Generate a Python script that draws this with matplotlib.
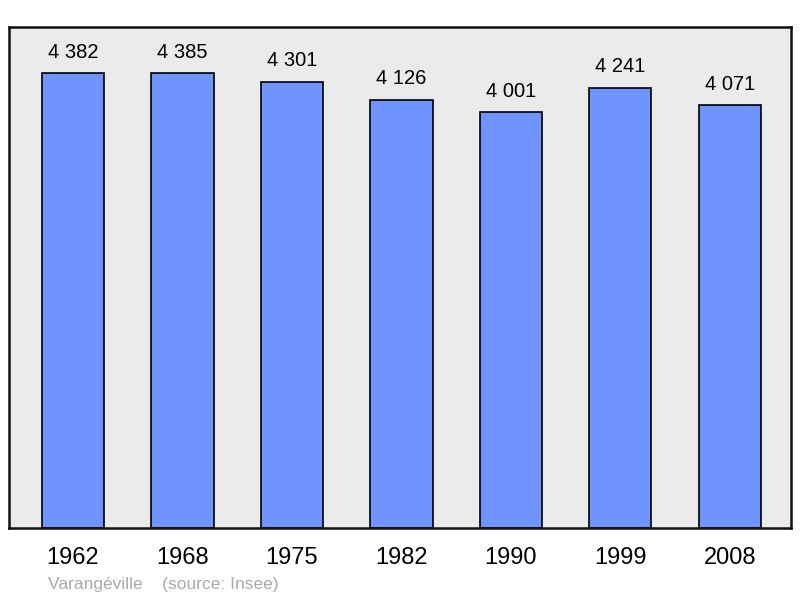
import matplotlib
matplotlib.use("Agg")
import matplotlib.pyplot as plt

# data
years = ["1962", "1968", "1975", "1982", "1990", "1999", "2008"]
population = [4382, 4385, 4301, 4126, 4001, 4241, 4071]
value_labels = ["4 382", "4 385", "4 301", "4 126", "4 001", "4 241", "4 071"]

plt.rcParams["font.family"] = ["Liberation Sans", "DejaVu Sans"]

fig = plt.figure(figsize=(8, 5.98), dpi=100)
ax = fig.add_axes([9 / 800, (598 - 528) / 598, 782 / 800, (528 - 27) / 598])
ax.set_facecolor("#ebebeb")

y_bottom = -58
ax.set_ylim(y_bottom, 4836)
ax.set_xlim(-0.585, 6.56)

x = list(range(len(years)))
ax.bar(x, [p - y_bottom for p in population], bottom=y_bottom, width=0.57,
       color="#7094ff", edgecolor="black", linewidth=1.2, zorder=2)

for xi, p, lab in zip(x, population, value_labels):
    ax.text(xi, p + 205, lab, ha="center", va="center", fontsize=14.5)

ax.set_xticks([])
ax.set_yticks([])
for s in ax.spines.values():
    s.set_linewidth(1.8)
    s.set_color("#111111")

for xi, yr in zip(x, years):
    fig.text((9 + (xi + 0.585) / 7.145 * 782) / 800, 1 - 558 / 598, yr,
             ha="center", va="center", fontsize=17)

fig.text(48 / 800, 1 - 585 / 598, "Varangéville    (source: Insee)",
         ha="left", va="center", fontsize=12.5, color="#aaaaaa")

fig.savefig("out.png", dpi=100)
